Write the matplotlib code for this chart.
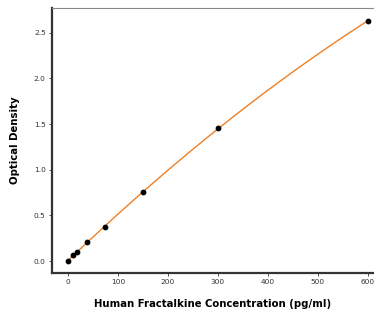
import numpy as np
import matplotlib
matplotlib.use("Agg")
import matplotlib.pyplot as plt

# Standard curve data
concentration = [0, 9.375, 18.75, 37.5, 75, 150, 300, 600]
optical_density = [0.0, 0.07, 0.1, 0.205, 0.375, 0.755, 1.455, 2.63]
x_ticks = [0, 100, 200, 300, 400, 500, 600]
y_ticks = [0.0, 0.5, 1.0, 1.5, 2.0, 2.5]

# Fit a smooth curve through the standards
coeffs = np.polyfit(concentration, optical_density, 2)
x_fit = np.linspace(min(concentration), max(concentration), 300)
y_fit = np.polyval(coeffs, x_fit)

fig = plt.figure(figsize=(3.74, 3.18), dpi=100)
ax = fig.add_axes([0.139, 0.1415, 0.861, 0.8335])

ax.plot(x_fit, y_fit, color="#f07f22", linewidth=1.0, zorder=2)
ax.scatter(concentration, optical_density, color="black", s=10, zorder=3)

ax.set_xlim(-32, 612)
ax.set_ylim(-0.13, 2.77)
ax.set_xticks(x_ticks)
ax.set_yticks(y_ticks)
ax.tick_params(labelsize=5.3, length=2.5, width=0.6, colors="#333333", pad=2)

ax.spines["left"].set_linewidth(1.6)
ax.spines["bottom"].set_linewidth(1.6)
ax.spines["left"].set_color("#333333")
ax.spines["bottom"].set_color("#333333")
ax.spines["top"].set_linewidth(0.8)
ax.spines["top"].set_color("#888888")
ax.spines["right"].set_visible(False)

ax.set_xlabel("Human Fractalkine Concentration (pg/ml)", fontsize=7.3, fontweight="bold", labelpad=10)
ax.set_ylabel("Optical Density", fontsize=7.3, fontweight="bold", labelpad=10)

fig.savefig("out.png", dpi=100)
